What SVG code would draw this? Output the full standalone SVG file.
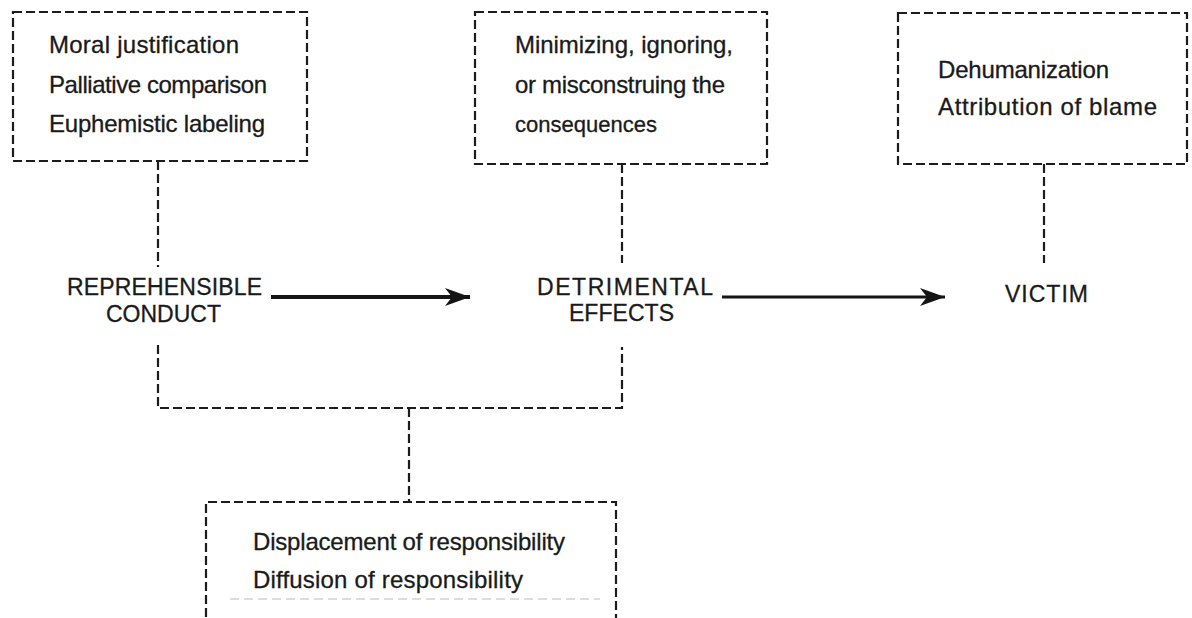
<svg xmlns="http://www.w3.org/2000/svg" width="1192" height="618" viewBox="0 0 1192 618">
  <style>
    .box { fill: none; stroke: #1c1c1c; stroke-width: 2.2; stroke-dasharray: 9 4; }
    .link { fill: none; stroke: #1c1c1c; stroke-width: 2.2; stroke-dasharray: 9 4; }
    .flow { fill: none; stroke: #151515; }
    .body { font-family: "Liberation Sans", Arial, sans-serif; font-size: 24px; fill: #1a1a1a; stroke: #1a1a1a; stroke-width: 0.3; }
    .label { font-family: "Liberation Sans", Arial, sans-serif; font-size: 23px; fill: #1a1a1a; stroke: #1a1a1a; stroke-width: 0.3; }
  </style>
  <defs>
    <marker id="head" markerUnits="userSpaceOnUse" viewBox="0 0 26 20" refX="25" refY="10" markerWidth="26" markerHeight="20" orient="auto">
      <path d="M0 1 L25 10 L0 19 L7 10 Z" fill="#151515"/>
    </marker>
  </defs>
  <rect width="1192" height="618" fill="#ffffff"/>

  <!-- connectors -->
  <g id="connectors">
    <path class="link" d="M158 161 V267"/>
    <path class="link" d="M622 164 V263"/>
    <path class="link" d="M1044 164 V263"/>
    <path class="link" d="M158 345 V408 H622 V347"/>
    <path class="link" d="M409 408 V502"/>
    <line class="flow" x1="271" y1="297" x2="470" y2="297" stroke-width="4" marker-end="url(#head)"/>
    <line class="flow" x1="722" y1="297" x2="945" y2="297" stroke-width="3.2" marker-end="url(#head)"/>
  </g>

  <!-- upper left: justification of the conduct -->
  <g id="node-conduct-mechanisms">
    <rect class="box" x="13" y="12" width="294" height="149"/>
    <text class="body" x="49" y="53" textLength="190">Moral justification</text>
    <text class="body" x="49" y="93" textLength="218">Palliative comparison</text>
    <text class="body" x="49" y="132" textLength="216">Euphemistic labeling</text>
  </g>

  <!-- upper middle: treatment of the effects -->
  <g id="node-effects-mechanisms">
    <rect class="box" x="475" y="12" width="292" height="152"/>
    <text class="body" x="515" y="53" textLength="218">Minimizing, ignoring,</text>
    <text class="body" x="515" y="93" textLength="210">or misconstruing the</text>
    <text class="body" x="515" y="132" style="font-size:22px">consequences</text>
  </g>

  <!-- upper right: view of the victim -->
  <g id="node-victim-mechanisms">
    <rect class="box" x="898" y="13" width="289" height="151"/>
    <text class="body" x="938" y="78" textLength="171">Dehumanization</text>
    <text class="body" x="938" y="115" textLength="219">Attribution of blame</text>
  </g>

  <!-- central chain -->
  <g id="node-conduct">
    <text class="label" x="67" y="295" textLength="195">REPREHENSIBLE</text>
    <text class="label" x="106" y="322" textLength="115">CONDUCT</text>
  </g>
  <g id="node-effects">
    <text class="label" x="537" y="295" textLength="176">DETRIMENTAL</text>
    <text class="label" x="569" y="321" textLength="105">EFFECTS</text>
  </g>
  <g id="node-victim">
    <text class="label" x="1005" y="302" textLength="83">VICTIM</text>
  </g>

  <!-- bottom: responsibility mechanisms (box runs past the lower edge) -->
  <g id="node-responsibility">
    <path class="box" d="M206 630 V502 H616 V630"/>
    <line x1="230" y1="599" x2="600" y2="599" stroke="#d2d2d2" stroke-width="1.5" stroke-dasharray="9 5"/>
    <text class="body" x="253" y="550" textLength="312">Displacement of responsibility</text>
    <text class="body" x="253" y="588" textLength="270">Diffusion of responsibility</text>
  </g>
</svg>
